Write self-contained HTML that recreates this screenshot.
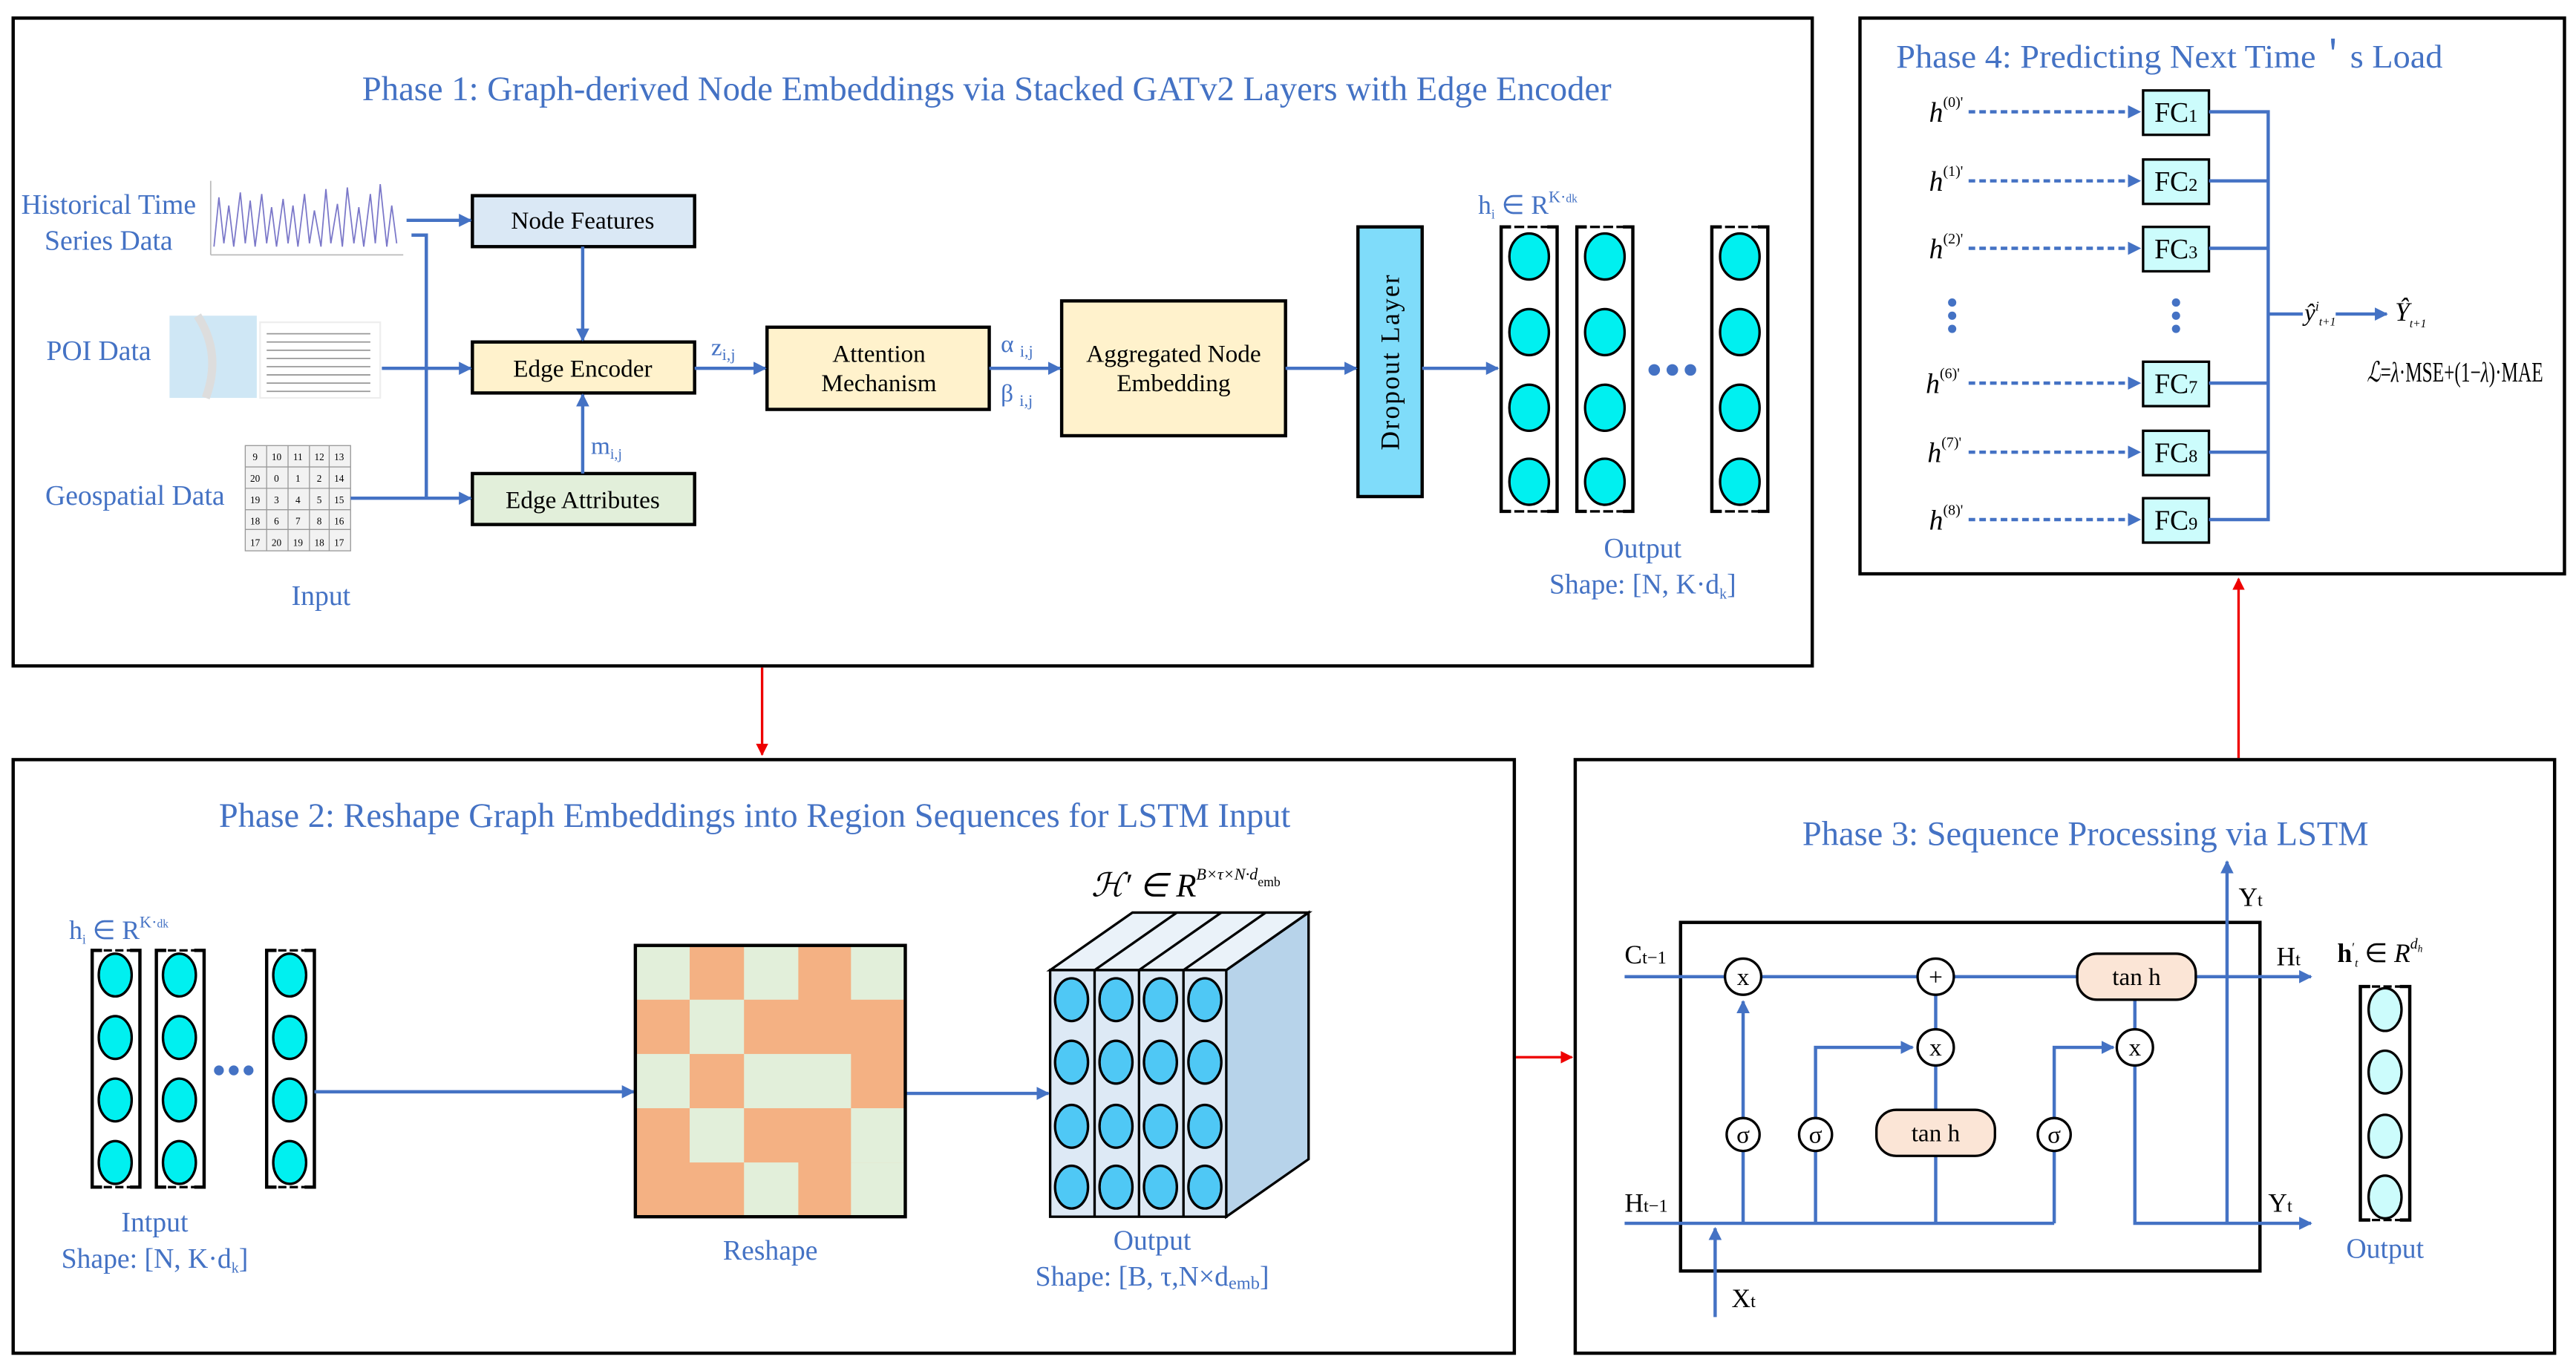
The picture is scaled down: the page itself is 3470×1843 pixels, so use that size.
<!DOCTYPE html>
<html><head><meta charset="utf-8"><style>
html,body{margin:0;padding:0;background:#fff;width:3470px;height:1843px;overflow:hidden}
svg{display:block}
text{font-family:"Liberation Serif",serif}
.b{fill:#4472c4}
.k{fill:#000}
</style></head><body>
<svg width="3470" height="1843" viewBox="0 0 1565 832" preserveAspectRatio="none" xmlns="http://www.w3.org/2000/svg">
<defs>
<marker id="a" viewBox="0 0 10 10" refX="9" refY="5" markerWidth="4" markerHeight="4" orient="auto"><path d="M0,0L10,5L0,10z" fill="#4472c4"/></marker>
<marker id="r" viewBox="0 0 10 10" refX="9" refY="5" markerWidth="5" markerHeight="5" orient="auto"><path d="M0,0L10,5L0,10z" fill="#e00"/></marker>
</defs>
<g fill="none" stroke="#000" stroke-width="2">
<rect x="8" y="11" width="1093" height="394"/>
<rect x="1130" y="11" width="428" height="338"/>
<rect x="8" y="462" width="912" height="361"/>
<rect x="957" y="462" width="595" height="361"/>
</g>
<g stroke="#e00" stroke-width="1.5" fill="none">
<line x1="463" y1="406" x2="463" y2="459" marker-end="url(#r)"/>
<line x1="921" y1="643" x2="955" y2="643" marker-end="url(#r)"/>
<line x1="1360" y1="461" x2="1360" y2="352" marker-end="url(#r)"/>
</g>

<!-- PHASE 1 -->
<text x="220" y="61" font-size="21" textLength="759" lengthAdjust="spacingAndGlyphs" class="b">Phase 1: Graph-derived Node Embeddings via Stacked GATv2 Layers with Edge Encoder</text>
<text x="66" y="130" font-size="17" text-anchor="middle" class="b">Historical Time</text>
<text x="66" y="152" font-size="17" text-anchor="middle" class="b">Series Data</text>
<text x="60" y="219" font-size="17" text-anchor="middle" class="b">POI Data</text>
<text x="82" y="307" font-size="17" text-anchor="middle" class="b">Geospatial Data</text>
<text x="195" y="368" font-size="17" text-anchor="middle" class="b">Input</text>
<g stroke="#7b78c9" stroke-width="0.8" fill="none">
<line x1="128" y1="155" x2="245" y2="155" stroke="#bbb"/>
<line x1="128" y1="110" x2="128" y2="155" stroke="#bbb"/>
<polyline points="130,150 133,120 136,148 139,125 142,150 146,117 149,148 152,122 155,150 159,118 162,148 165,126 168,150 172,121 175,148 178,125 181,150 185,118 188,148 191,128 195,150 198,115 201,148 205,124 208,150 211,114 215,148 218,126 221,150 225,118 228,148 231,112 235,150 238,125 241,148"/>
</g>
<rect x="103" y="192" width="53" height="50" fill="#cfe7f5"/>
<path d="M120,192 Q135,215 125,242" stroke="#ddd" stroke-width="5" fill="none"/>
<rect x="158" y="196" width="73" height="46" fill="#fff" stroke="#eee"/>
<g stroke="#999" stroke-width="0.8"><line x1="162" y1="203" x2="225" y2="203"/><line x1="162" y1="208" x2="225" y2="208"/><line x1="162" y1="213" x2="225" y2="213"/><line x1="162" y1="218" x2="225" y2="218"/><line x1="162" y1="223" x2="225" y2="223"/><line x1="162" y1="228" x2="225" y2="228"/><line x1="162" y1="233" x2="225" y2="233"/><line x1="162" y1="238" x2="225" y2="238"/></g>
<g font-size="6" text-anchor="middle" class="k">
<rect x="149" y="271" width="64" height="64" fill="#f2f2f2" stroke="#999" stroke-width="0.6"/>
<g stroke="#999" stroke-width="0.6"><line x1="162" y1="271" x2="162" y2="335"/><line x1="175" y1="271" x2="175" y2="335"/><line x1="188" y1="271" x2="188" y2="335"/><line x1="200" y1="271" x2="200" y2="335"/><line x1="149" y1="284" x2="213" y2="284"/><line x1="149" y1="297" x2="213" y2="297"/><line x1="149" y1="310" x2="213" y2="310"/><line x1="149" y1="322" x2="213" y2="322"/></g>
<text x="155" y="280">9</text><text x="168" y="280">10</text><text x="181" y="280">11</text><text x="194" y="280">12</text><text x="206" y="280">13</text>
<text x="155" y="293">20</text><text x="168" y="293">0</text><text x="181" y="293">1</text><text x="194" y="293">2</text><text x="206" y="293">14</text>
<text x="155" y="306">19</text><text x="168" y="306">3</text><text x="181" y="306">4</text><text x="194" y="306">5</text><text x="206" y="306">15</text>
<text x="155" y="319">18</text><text x="168" y="319">6</text><text x="181" y="319">7</text><text x="194" y="319">8</text><text x="206" y="319">16</text>
<text x="155" y="332">17</text><text x="168" y="332">20</text><text x="181" y="332">19</text><text x="194" y="332">18</text><text x="206" y="332">17</text>
</g>
<g stroke="#000" stroke-width="2">
<rect x="287" y="119" width="135" height="31" fill="#dae8f5"/>
<rect x="287" y="208" width="135" height="31" fill="#fff2cc"/>
<rect x="287" y="288" width="135" height="31" fill="#e2efda"/>
<rect x="466" y="199" width="135" height="50" fill="#fff2cc"/>
<rect x="645" y="183" width="136" height="82" fill="#fff2cc"/>
<rect x="825" y="138" width="39" height="164" fill="#7fdcfa"/>
</g>
<g font-size="15" text-anchor="middle" class="k">
<text x="354" y="139">Node Features</text>
<text x="354" y="229">Edge Encoder</text>
<text x="354" y="309">Edge Attributes</text>
<text x="534" y="220">Attention</text>
<text x="534" y="238">Mechanism</text>
<text x="713" y="220">Aggregated Node</text>
<text x="713" y="238">Embedding</text>
<text transform="translate(850,220) rotate(-90)" font-size="16" font-family="Liberation Sans" letter-spacing="1">Dropout Layer</text>
</g>
<g stroke="#4472c4" stroke-width="2" fill="none">
<line x1="247" y1="134" x2="286" y2="134" marker-end="url(#a)"/>
<polyline points="250,143 259,143 259,303"/>
<line x1="232" y1="224" x2="286" y2="224" marker-end="url(#a)"/>
<line x1="213" y1="303" x2="286" y2="303" marker-end="url(#a)"/>
<line x1="354" y1="150" x2="354" y2="207" marker-end="url(#a)"/>
<line x1="354" y1="288" x2="354" y2="240" marker-end="url(#a)"/>
<line x1="422" y1="224" x2="465" y2="224" marker-end="url(#a)"/>
<line x1="601" y1="224" x2="644" y2="224" marker-end="url(#a)"/>
<line x1="781" y1="224" x2="824" y2="224" marker-end="url(#a)"/>
<line x1="864" y1="224" x2="910" y2="224" marker-end="url(#a)"/>
</g>
<text x="432" y="216" font-size="15" class="b">z<tspan font-size="10" dy="3">i,j</tspan></text>
<text x="608" y="214" font-size="15" class="b">α <tspan font-size="10" dy="3">i,j</tspan></text>
<text x="608" y="244" font-size="15" class="b">β <tspan font-size="10" dy="3">i,j</tspan></text>
<text x="359" y="276" font-size="15" class="b">m<tspan font-size="9" dy="3">i,j</tspan></text>
<text x="898" y="130" font-size="16" class="b">h<tspan font-size="8" dy="3">i</tspan><tspan dy="-3"> ∈ R</tspan><tspan font-size="10" dy="-7">K·</tspan><tspan font-size="7">dk</tspan></text>
<g stroke="#000" stroke-width="2" fill="none">
<path d="M918,138h-6v173h6M940,138h6v173h-6" />
<path d="M964,138h-6v173h6M986,138h6v173h-6" />
<path d="M1046,138h-6v173h6M1068,138h6v173h-6" />
</g>
<g stroke="#000" stroke-width="1.5" stroke-dasharray="6,2" fill="none">
<line x1="912" y1="138" x2="946" y2="138"/><line x1="912" y1="311" x2="946" y2="311"/>
<line x1="958" y1="138" x2="992" y2="138"/><line x1="958" y1="311" x2="992" y2="311"/>
<line x1="1040" y1="138" x2="1074" y2="138"/><line x1="1040" y1="311" x2="1074" y2="311"/>
</g>
<g fill="#00f0f0" stroke="#000" stroke-width="1.5">
<ellipse cx="929" cy="156" rx="12" ry="14"/><ellipse cx="929" cy="202" rx="12" ry="14"/><ellipse cx="929" cy="248" rx="12" ry="14"/><ellipse cx="929" cy="293" rx="12" ry="14"/>
<ellipse cx="975" cy="156" rx="12" ry="14"/><ellipse cx="975" cy="202" rx="12" ry="14"/><ellipse cx="975" cy="248" rx="12" ry="14"/><ellipse cx="975" cy="293" rx="12" ry="14"/>
<ellipse cx="1057" cy="156" rx="12" ry="14"/><ellipse cx="1057" cy="202" rx="12" ry="14"/><ellipse cx="1057" cy="248" rx="12" ry="14"/><ellipse cx="1057" cy="293" rx="12" ry="14"/>
</g>
<g fill="#4472c4"><circle cx="1005" cy="225" r="3.5"/><circle cx="1016" cy="225" r="3.5"/><circle cx="1027" cy="225" r="3.5"/></g>
<text x="998" y="339" font-size="17" text-anchor="middle" class="b">Output</text>
<text x="998" y="361" font-size="17" text-anchor="middle" class="b">Shape: [N, K·d<tspan font-size="9" dy="3">k</tspan><tspan dy="-3">]</tspan></text>

<!-- PHASE 4 -->
<text x="1152" y="41" font-size="20" textLength="332" lengthAdjust="spacingAndGlyphs" class="b">Phase 4: Predicting Next Time＇s  Load</text>
<g font-size="17" font-style="italic" class="k">
<text x="1172" y="74">h<tspan font-size="9" dy="-9" font-style="normal">(0)'</tspan></text>
<text x="1172" y="116">h<tspan font-size="9" dy="-9" font-style="normal">(1)'</tspan></text>
<text x="1172" y="157">h<tspan font-size="9" dy="-9" font-style="normal">(2)'</tspan></text>
<text x="1170" y="239">h<tspan font-size="9" dy="-9" font-style="normal">(6)'</tspan></text>
<text x="1171" y="281">h<tspan font-size="9" dy="-9" font-style="normal">(7)'</tspan></text>
<text x="1172" y="322">h<tspan font-size="9" dy="-9" font-style="normal">(8)'</tspan></text>
</g>
<g stroke="#4472c4" stroke-width="2" stroke-dasharray="4,2.5" fill="none">
<line x1="1196" y1="68" x2="1300" y2="68" marker-end="url(#a)"/>
<line x1="1196" y1="110" x2="1300" y2="110" marker-end="url(#a)"/>
<line x1="1196" y1="151" x2="1300" y2="151" marker-end="url(#a)"/>
<line x1="1196" y1="233" x2="1300" y2="233" marker-end="url(#a)"/>
<line x1="1196" y1="275" x2="1300" y2="275" marker-end="url(#a)"/>
<line x1="1196" y1="316" x2="1300" y2="316" marker-end="url(#a)"/>
</g>
<g fill="#ccfcfc" stroke="#000" stroke-width="1.5">
<rect x="1302" y="55" width="40" height="27"/><rect x="1302" y="97" width="40" height="27"/><rect x="1302" y="138" width="40" height="27"/>
<rect x="1302" y="220" width="40" height="27"/><rect x="1302" y="262" width="40" height="27"/><rect x="1302" y="303" width="40" height="27"/>
</g>
<g font-size="17" text-anchor="middle" class="k">
<text x="1322" y="74">FC<tspan font-size="11">1</tspan></text><text x="1322" y="116">FC<tspan font-size="11">2</tspan></text><text x="1322" y="157">FC<tspan font-size="11">3</tspan></text>
<text x="1322" y="239">FC<tspan font-size="11">7</tspan></text><text x="1322" y="281">FC<tspan font-size="11">8</tspan></text><text x="1322" y="322">FC<tspan font-size="11">9</tspan></text>
</g>
<g stroke="#4472c4" stroke-width="2" fill="none">
<polyline points="1342,68 1378,68 1378,316 1342,316"/>
<line x1="1342" y1="110" x2="1378" y2="110"/><line x1="1342" y1="151" x2="1378" y2="151"/>
<line x1="1342" y1="233" x2="1378" y2="233"/><line x1="1342" y1="275" x2="1378" y2="275"/>
<line x1="1378" y1="191" x2="1399" y2="191"/>
<line x1="1419" y1="191" x2="1450" y2="191" marker-end="url(#a)"/>
</g>
<g fill="#4472c4"><circle cx="1186" cy="184" r="2.5"/><circle cx="1186" cy="192" r="2.5"/><circle cx="1186" cy="200" r="2.5"/><circle cx="1322" cy="184" r="2.5"/><circle cx="1322" cy="192" r="2.5"/><circle cx="1322" cy="200" r="2.5"/></g>
<text x="1400" y="195" font-size="15" font-style="italic" class="k">ŷ<tspan font-size="8" dy="-6">i</tspan><tspan font-size="7" dy="9">t+1</tspan></text>
<text x="1455" y="195" font-size="16" font-style="italic" class="k">Ŷ<tspan font-size="7" dy="4">t+1</tspan></text>
<text x="1438" y="232" font-size="17" class="k" textLength="107" lengthAdjust="spacingAndGlyphs"><tspan font-style="italic">ℒ</tspan>=<tspan font-style="italic">λ</tspan>·MSE+(1−<tspan font-style="italic">λ</tspan>)·MAE</text>

<!-- PHASE 2 -->
<text x="133" y="503" font-size="21" textLength="651" lengthAdjust="spacingAndGlyphs" class="b">Phase 2: Reshape Graph Embeddings into Region Sequences for LSTM Input</text>
<text x="42" y="571" font-size="16" class="b">h<tspan font-size="8" dy="3">i</tspan><tspan dy="-3"> ∈ R</tspan><tspan font-size="10" dy="-7">K·</tspan><tspan font-size="7">dk</tspan></text>
<g stroke="#000" stroke-width="2" fill="none">
<path d="M62,578h-6v144h6M79,578h6v144h-6"/>
<path d="M101,578h-6v144h6M118,578h6v144h-6"/>
<path d="M168,578h-6v144h6M185,578h6v144h-6"/>
</g>
<g stroke="#000" stroke-width="1.5" stroke-dasharray="5,2">
<line x1="56" y1="578" x2="85" y2="578"/><line x1="56" y1="722" x2="85" y2="722"/>
<line x1="95" y1="578" x2="124" y2="578"/><line x1="95" y1="722" x2="124" y2="722"/>
<line x1="162" y1="578" x2="191" y2="578"/><line x1="162" y1="722" x2="191" y2="722"/>
</g>
<g fill="#00f0f0" stroke="#000" stroke-width="1.5">
<ellipse cx="70" cy="593" rx="10" ry="13"/><ellipse cx="70" cy="631" rx="10" ry="13"/><ellipse cx="70" cy="669" rx="10" ry="13"/><ellipse cx="70" cy="707" rx="10" ry="13"/>
<ellipse cx="109" cy="593" rx="10" ry="13"/><ellipse cx="109" cy="631" rx="10" ry="13"/><ellipse cx="109" cy="669" rx="10" ry="13"/><ellipse cx="109" cy="707" rx="10" ry="13"/>
<ellipse cx="176" cy="593" rx="10" ry="13"/><ellipse cx="176" cy="631" rx="10" ry="13"/><ellipse cx="176" cy="669" rx="10" ry="13"/><ellipse cx="176" cy="707" rx="10" ry="13"/>
</g>
<g fill="#4472c4"><circle cx="133" cy="651" r="3"/><circle cx="142" cy="651" r="3"/><circle cx="151" cy="651" r="3"/></g>
<text x="94" y="749" font-size="17" text-anchor="middle" class="b">Intput</text>
<text x="94" y="771" font-size="17" text-anchor="middle" class="b">Shape: [N, K·d<tspan font-size="9" dy="3">k</tspan><tspan dy="-3">]</tspan></text>
<g stroke="#4472c4" stroke-width="2" fill="none">
<line x1="191" y1="664" x2="385" y2="664" marker-end="url(#a)"/>
<line x1="550" y1="665" x2="637" y2="665" marker-end="url(#a)"/>
</g>
<g>
<rect x="386" y="575" width="164" height="165" fill="#f4b183"/>
<g fill="#e2efda">
<rect x="386" y="575" width="33" height="33"/><rect x="452" y="575" width="33" height="33"/><rect x="517" y="575" width="33" height="33"/>
<rect x="419" y="608" width="33" height="33"/>
<rect x="386" y="641" width="33" height="33"/><rect x="452" y="641" width="65" height="33"/>
<rect x="419" y="674" width="33" height="33"/><rect x="517" y="674" width="33" height="33"/>
<rect x="452" y="707" width="33" height="33"/><rect x="517" y="707" width="33" height="33"/>
</g>
<rect x="386" y="575" width="164" height="165" fill="none" stroke="#000" stroke-width="2"/>
</g>
<text x="468" y="766" font-size="17" text-anchor="middle" class="b">Reshape</text>
<g stroke="#000" stroke-width="1.5">
<polygon points="745,590 795,555 795,705 745,740" fill="#b7d3ea"/>
<polygon points="638,590 688,555 795,555 745,590" fill="#eaf2f9"/>
<line x1="665" y1="590" x2="715" y2="555"/><line x1="692" y1="590" x2="742" y2="555"/><line x1="719" y1="590" x2="769" y2="555"/>
<rect x="638" y="590" width="107" height="150" fill="#dde9f5"/>
<line x1="665" y1="590" x2="665" y2="740"/><line x1="692" y1="590" x2="692" y2="740"/><line x1="719" y1="590" x2="719" y2="740"/>
</g>
<g fill="#4fc8f5" stroke="#000" stroke-width="1.5">
<ellipse cx="651" cy="608" rx="10" ry="13"/><ellipse cx="651" cy="646" rx="10" ry="13"/><ellipse cx="651" cy="685" rx="10" ry="13"/><ellipse cx="651" cy="722" rx="10" ry="13"/>
<ellipse cx="678" cy="608" rx="10" ry="13"/><ellipse cx="678" cy="646" rx="10" ry="13"/><ellipse cx="678" cy="685" rx="10" ry="13"/><ellipse cx="678" cy="722" rx="10" ry="13"/>
<ellipse cx="705" cy="608" rx="10" ry="13"/><ellipse cx="705" cy="646" rx="10" ry="13"/><ellipse cx="705" cy="685" rx="10" ry="13"/><ellipse cx="705" cy="722" rx="10" ry="13"/>
<ellipse cx="732" cy="608" rx="10" ry="13"/><ellipse cx="732" cy="646" rx="10" ry="13"/><ellipse cx="732" cy="685" rx="10" ry="13"/><ellipse cx="732" cy="722" rx="10" ry="13"/>
</g>
<text x="663" y="545" font-size="20" font-style="italic" class="k">ℋ′ ∈ R<tspan font-size="10" dy="-10">B×τ×N·d</tspan><tspan font-size="8" dy="4" font-style="normal">emb</tspan></text>
<text x="700" y="760" font-size="17" text-anchor="middle" class="b">Output</text>
<text x="700" y="782" font-size="17" text-anchor="middle" class="b">Shape: [B, τ,N×d<tspan font-size="11" dy="2">emb</tspan><tspan dy="-2">]</tspan></text>

<!-- PHASE 3 -->
<text x="1095" y="514" font-size="21" textLength="344" lengthAdjust="spacingAndGlyphs" class="b">Phase 3: Sequence Processing via LSTM</text>
<rect x="1021" y="561" width="352" height="212" fill="none" stroke="#000" stroke-width="2"/>
<g stroke="#4472c4" stroke-width="2" fill="none">
<line x1="987" y1="594" x2="1404" y2="594" marker-end="url(#a)"/>
<line x1="987" y1="744" x2="1248" y2="744"/>
<line x1="1059" y1="744" x2="1059" y2="609" marker-end="url(#a)"/>
<polyline points="1103,744 1103,637 1162,637" marker-end="url(#a)"/>
<line x1="1176" y1="744" x2="1176" y2="594"/>
<polyline points="1248,744 1248,637 1284,637" marker-end="url(#a)"/>
<polyline points="1297,594 1297,744 1404,744" marker-end="url(#a)"/>
<line x1="1353" y1="744" x2="1353" y2="524" marker-end="url(#a)"/>
<line x1="1042" y1="801" x2="1042" y2="747" marker-end="url(#a)"/>
</g>
<g stroke="#000" stroke-width="1.5" fill="#fff">
<circle cx="1059" cy="594" r="11"/><circle cx="1176" cy="594" r="11"/><circle cx="1176" cy="637" r="11"/><circle cx="1297" cy="637" r="11"/>
<circle cx="1059" cy="690" r="10"/><circle cx="1103" cy="690" r="10"/><circle cx="1248" cy="690" r="10"/>
<rect x="1140" y="675" width="72" height="28" rx="12" fill="#fbe5d6"/>
<rect x="1262" y="580" width="72" height="28" rx="12" fill="#fbe5d6"/>
</g>
<g font-size="15" text-anchor="middle" class="k">
<text x="1059" y="599">x</text><text x="1176" y="599">+</text><text x="1176" y="642">x</text><text x="1297" y="642">x</text>
<text x="1059" y="695">σ</text><text x="1103" y="695">σ</text><text x="1248" y="695">σ</text>
<text x="1176" y="694">tan h</text><text x="1298" y="599">tan h</text>
</g>
<g font-size="16" class="k">
<text x="987" y="586">C<tspan font-size="11">t−1</tspan></text>
<text x="987" y="737">H<tspan font-size="11">t−1</tspan></text>
<text x="1383" y="587">H<tspan font-size="11">t</tspan></text>
<text x="1378" y="737">Y<tspan font-size="11">t</tspan></text>
<text x="1360" y="551">Y<tspan font-size="11">t</tspan></text>
<text x="1052" y="795">X<tspan font-size="11">t</tspan></text>
<text x="1420" y="585" font-size="16"><tspan font-weight="bold">h</tspan><tspan font-size="8" dy="-6">′</tspan><tspan font-size="7" dy="9" font-style="italic">t</tspan><tspan dy="-3"> ∈ </tspan><tspan font-style="italic">R</tspan><tspan font-size="9" dy="-8" font-style="italic">d</tspan><tspan font-size="6" dy="2" font-style="italic">h</tspan></text>
</g>
<g stroke="#000" stroke-width="2" fill="none"><path d="M1440,600h-6v142h6M1458,600h6v142h-6"/></g>
<g stroke="#000" stroke-width="1.5" stroke-dasharray="5,2"><line x1="1434" y1="600" x2="1464" y2="600"/><line x1="1434" y1="742" x2="1464" y2="742"/></g>
<g fill="#ccfcfc" stroke="#000" stroke-width="1.5">
<ellipse cx="1449" cy="614" rx="10" ry="13"/><ellipse cx="1449" cy="652" rx="10" ry="13"/><ellipse cx="1449" cy="691" rx="10" ry="13"/><ellipse cx="1449" cy="728" rx="10" ry="13"/>
</g>
<text x="1449" y="765" font-size="17" text-anchor="middle" class="b">Output</text>
</svg>
</body></html>
